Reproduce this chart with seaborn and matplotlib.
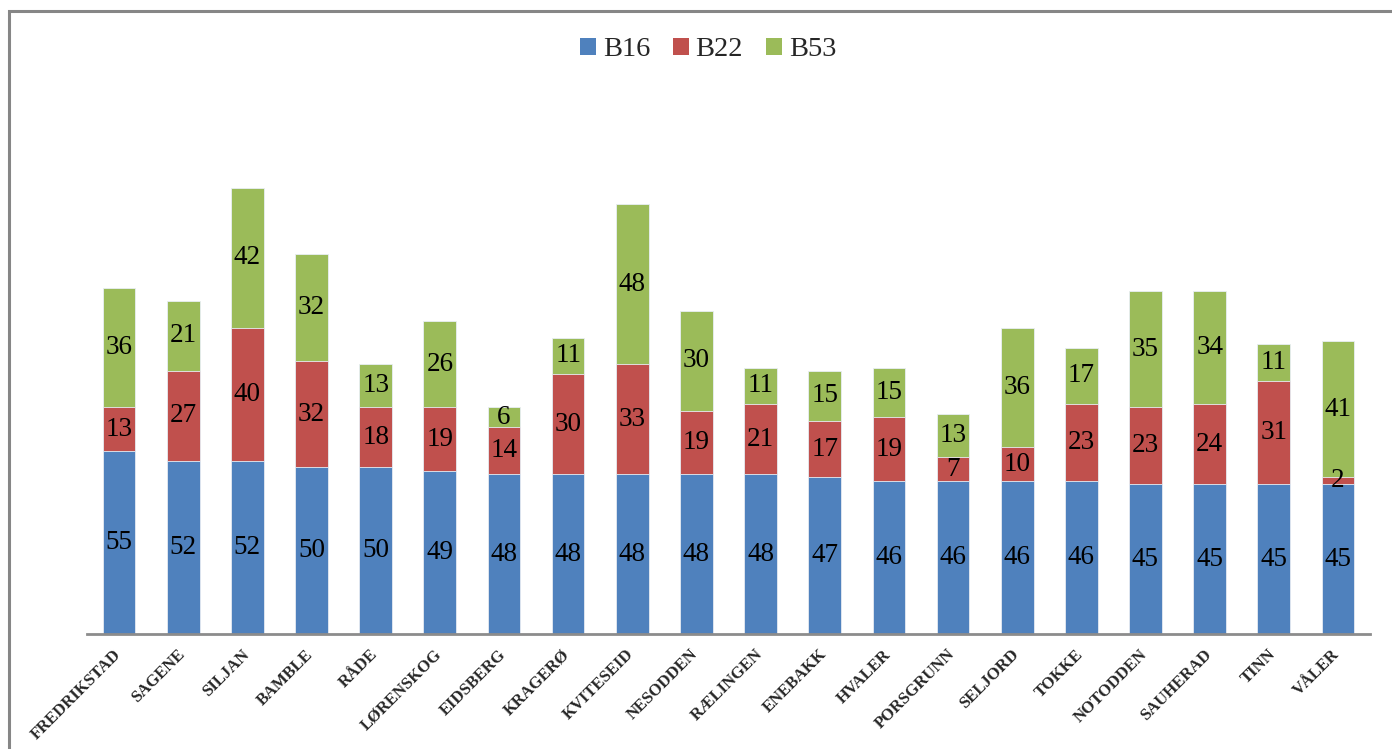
import matplotlib
matplotlib.use("Agg")
import matplotlib.pyplot as plt
import matplotlib.transforms as mtrans
import seaborn as sns
import pandas as pd
import numpy as np
from matplotlib.patches import Rectangle, Patch

categories = ["FREDRIKSTAD", "SAGENE", "SILJAN", "BAMBLE", "RÅDE", "LØRENSKOG",
              "EIDSBERG", "KRAGERØ", "KVITESEID", "NESODDEN", "RÆLINGEN", "ENEBAKK",
              "HVALER", "PORSGRUNN", "SELJORD", "TOKKE", "NOTODDEN", "SAUHERAD",
              "TINN", "VÅLER"]
b16 = [55, 52, 52, 50, 50, 49, 48, 48, 48, 48, 48, 47, 46, 46, 46, 46, 45, 45, 45, 45]
b22 = [13, 27, 40, 32, 18, 19, 14, 30, 33, 19, 21, 17, 19, 7, 10, 23, 23, 24, 31, 2]
b53 = [36, 21, 42, 32, 13, 26, 6, 11, 48, 30, 11, 15, 15, 13, 36, 17, 35, 34, 11, 41]
series_names = ["B16", "B22", "B53"]
colors = ["#4F81BD", "#C0504D", "#9BBB59"]

sns.set_style("white")
plt.rcParams["font.family"] = ["Liberation Serif", "DejaVu Serif"]

df = pd.DataFrame({"cat": categories, "B16": b16, "B22": b22, "B53": b53})
df["c2"] = df["B16"] + df["B22"]
df["c3"] = df["c2"] + df["B53"]

W, H = 1392, 749
fig = plt.figure(figsize=(W / 100, H / 100), dpi=100)
ax = fig.add_axes([87 / W, 1 - 634 / H, (1370 - 87) / W, (634 - 101) / H])

bw = 0.51
sns.barplot(data=df, x="cat", y="c3", color=colors[2], saturation=1, width=bw,
            edgecolor="#e8eef4", linewidth=0.6, ax=ax)
sns.barplot(data=df, x="cat", y="c2", color=colors[1], saturation=1, width=bw,
            edgecolor="#e8eef4", linewidth=0.6, ax=ax)
sns.barplot(data=df, x="cat", y="B16", color=colors[0], saturation=1, width=bw,
            edgecolor="#e8eef4", linewidth=0.6, ax=ax)

ax.set_xlim(-0.5, len(categories) - 0.5)
ax.set_ylim(0, 160)
ax.set_xlabel("")
ax.set_ylabel("")
ax.set_yticks([])
for s in ["top", "right", "left"]:
    ax.spines[s].set_visible(False)
ax.spines["bottom"].set_color("#8c8c8c")
ax.spines["bottom"].set_linewidth(2)
ax.tick_params(axis="x", length=0, pad=9)
ax.set_xticks(range(len(categories)))
ax.set_xticklabels(categories, rotation=45, ha="right", va="top",
                   fontsize=12, fontweight="bold")
offset = mtrans.ScaledTranslation(5 / 100, 0, fig.dpi_scale_trans)
for lab in ax.get_xticklabels():
    lab.set_transform(lab.get_transform() + offset)

# data labels
for i in range(len(categories)):
    bottoms = [0, b16[i], b16[i] + b22[i]]
    for v, b in zip([b16[i], b22[i], b53[i]], bottoms):
        ax.text(i, b + v / 2, str(v), ha="center", va="center",
                fontsize=19.5, color="black")

handles = [Patch(facecolor=c, edgecolor="none", label=n) for c, n in zip(colors, series_names)]
fig.legend(handles=handles, loc="center", bbox_to_anchor=(708 / W, 1 - 50 / H), ncol=3,
           frameon=False, fontsize=20.5, handlelength=0.55, handleheight=0.55,
           handletextpad=0.25, columnspacing=0.8)

# outer border
fig.patches.append(Rectangle((8.5 / W, -0.05), 1.2, 1 - 11 / H + 0.05,
                             transform=fig.transFigure, fill=False,
                             edgecolor="#868686", linewidth=2.2))

fig.savefig("out.png", dpi=100)
